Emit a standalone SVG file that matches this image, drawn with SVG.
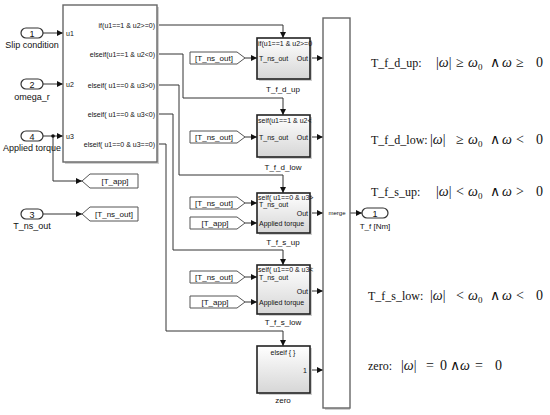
<svg xmlns="http://www.w3.org/2000/svg" width="550" height="415" viewBox="0 0 550 415">
<style>
text{font-family:"Liberation Sans",Arial,sans-serif;fill:#111}
.lbl{font-size:9px;text-anchor:middle}
.num{font-size:9px;text-anchor:middle}
.sm{font-size:7px}
.tag{font-size:8px;text-anchor:middle}
.cap{font-size:8px;text-anchor:middle}
.wire{fill:none;stroke:#333;stroke-width:1;marker-end:url(#ah)}
.shadow{fill:#cfcfcf}
.sub{fill:url(#g);stroke:#222;stroke-width:1.6}
.port{fill:#fff;stroke:#333;stroke-width:1.2}
.tagshape{fill:#fff;stroke:#555;stroke-width:1}
#eqs text{font-family:"Liberation Serif","Times New Roman",serif;font-size:14px;fill:#111}
#eqs text.name{font-size:12px}
.w{font-style:italic}
.sub0{font-size:9px}
</style>
<defs>
<linearGradient id="g" x1="0" y1="0" x2="0" y2="1">
<stop offset="0" stop-color="#ffffff"/>
<stop offset="1" stop-color="#d6d6d6"/>
</linearGradient>
<marker id="ah" markerUnits="userSpaceOnUse" markerWidth="7" markerHeight="6" refX="6" refY="3" orient="auto">
<path d="M0,0 L6,3 L0,6 z" fill="#111"/>
</marker>
</defs>
<rect width="550" height="415" fill="#fff"/>

<g id="connectors">
<path class="wire" d="M43,33 H63"/>
<path class="wire" d="M43,84 H63"/>
<path class="wire" d="M43,136 H63"/>
<path class="wire" d="M53,136 V181 H82"/>
<circle cx="53" cy="136" r="1.8" fill="#111"/>
<path class="wire" d="M43,214 H82"/>
<path class="wire" d="M157,25 H283 V38"/>
<path class="wire" d="M157,54 H183 V98 H283 V115"/>
<path class="wire" d="M157,85 H179 V175 H283 V193"/>
<path class="wire" d="M157,114 H173 V250 H283 V265"/>
<path class="wire" d="M157,144 H166 V331 H283 V346"/>
<path class="wire" d="M245,58 H257"/>
<path class="wire" d="M245,137 H257"/>
<path class="wire" d="M245,203 H257"/>
<path class="wire" d="M245,223 H257"/>
<path class="wire" d="M245,277 H257"/>
<path class="wire" d="M245,302 H257"/>
<path class="wire" d="M310,58 H323"/>
<path class="wire" d="M310,137 H323"/>
<path class="wire" d="M310,213 H323"/>
<path class="wire" d="M310,291 H323"/>
<path class="wire" d="M310,370 H323"/>
<path class="wire" d="M350,213 H362"/>
</g>

<g id="in1">
<rect x="21" y="28" width="22" height="10" rx="5" class="port"/>
<text x="32" y="36.5" class="num">1</text>
<text x="32" y="48" class="lbl">Slip condition</text>
</g>
<g id="in2">
<rect x="21" y="79" width="22" height="10" rx="5" class="port"/>
<text x="32" y="87.5" class="num">2</text>
<text x="32" y="100" class="lbl">omega_r</text>
</g>
<g id="in4">
<rect x="21" y="131" width="22" height="10" rx="5" class="port"/>
<text x="32" y="139.5" class="num">4</text>
<text x="32" y="151" class="lbl">Applied torque</text>
</g>
<g id="in3">
<rect x="21" y="209" width="22" height="10" rx="5" class="port"/>
<text x="32" y="217.5" class="num">3</text>
<text x="32" y="229" class="lbl">T_ns_out</text>
</g>

<g id="ifblock">
<rect x="65" y="7" width="94" height="157" class="shadow"/>
<rect x="63" y="5" width="94" height="157" fill="#fff" stroke="#666" stroke-width="1.4"/>
<text x="66" y="35.5" class="sm">u1</text>
<text x="66" y="86.5" class="sm">u2</text>
<text x="66" y="138.5" class="sm">u3</text>
<g class="sm" text-anchor="end">
<text x="155" y="27.5">if(u1==1 &amp; u2&gt;=0)</text>
<text x="155" y="56.5">elseif(u1==1 &amp; u2&lt;0)</text>
<text x="155" y="87.5">elseif( u1==0 &amp; u3&gt;0)</text>
<text x="155" y="116.5">elseif( u1==0 &amp; u3&lt;0)</text>
<text x="155" y="146.5">elseif( u1==0 &amp; u3==0)</text>
</g>
</g>

<g id="goto_tapp">
<polygon points="82,181 90,174 138,174 138,188 90,188" class="tagshape"/>
<text x="115" y="184" class="tag">[T_app]</text>
</g>
<g id="goto_tns">
<polygon points="82,214 90,207 138,207 138,221 90,221" class="tagshape"/>
<text x="114" y="217" class="tag">[T_ns_out]</text>
</g>

<g id="from1">
<polygon points="190,52 237,52 245,58 237,64 190,64" class="tagshape"/>
<text x="214" y="61" class="tag">[T_ns_out]</text>
</g>
<g id="from2">
<polygon points="190,131 237,131 245,137 237,143 190,143" class="tagshape"/>
<text x="214" y="140" class="tag">[T_ns_out]</text>
</g>
<g id="from3">
<polygon points="190,197 237,197 245,203 237,209 190,209" class="tagshape"/>
<text x="214" y="206" class="tag">[T_ns_out]</text>
</g>
<g id="from4">
<polygon points="190,217 237,217 245,223 237,229 190,229" class="tagshape"/>
<text x="215" y="226" class="tag">[T_app]</text>
</g>
<g id="from5">
<polygon points="190,271 237,271 245,277 237,283 190,283" class="tagshape"/>
<text x="214" y="280" class="tag">[T_ns_out]</text>
</g>
<g id="from6">
<polygon points="190,296 237,296 245,302 237,308 190,308" class="tagshape"/>
<text x="215" y="305" class="tag">[T_app]</text>
</g>

<g id="T_f_d_up">
<rect x="259" y="40" width="53" height="41" class="shadow"/>
<rect x="257" y="38" width="53" height="41" class="sub"/>
<text x="258" y="46" class="sm">if(u1==1 &amp; u2&gt;=0</text>
<text x="259" y="60.5" class="sm">T_ns_out</text>
<text x="308" y="60.5" class="sm" text-anchor="end">Out</text>
<text x="283" y="92" class="cap">T_f_d_up</text>
</g>
<g id="T_f_d_low">
<rect x="259" y="117" width="53" height="42" class="shadow"/>
<rect x="257" y="115" width="53" height="42" class="sub"/>
<text x="258" y="123" class="sm">seif(u1==1 &amp; u2&lt;</text>
<text x="259" y="139.5" class="sm">T_ns_out</text>
<text x="308" y="139.5" class="sm" text-anchor="end">Out</text>
<text x="283" y="170" class="cap">T_f_d_low</text>
</g>
<g id="T_f_s_up">
<rect x="259" y="195" width="53" height="40" class="shadow"/>
<rect x="257" y="193" width="53" height="40" class="sub"/>
<text x="258" y="200" class="sm">seif( u1==0 &amp; u3&gt;</text>
<text x="259" y="206.5" class="sm">T_ns_out</text>
<text x="308" y="215.5" class="sm" text-anchor="end">Out</text>
<text x="259" y="225.5" class="sm">Applied torque</text>
<text x="283" y="245" class="cap">T_f_s_up</text>
</g>
<g id="T_f_s_low">
<rect x="259" y="267" width="53" height="49" class="shadow"/>
<rect x="257" y="265" width="53" height="49" class="sub"/>
<text x="258" y="272" class="sm">seif( u1==0 &amp; u3&lt;</text>
<text x="259" y="279.5" class="sm">T_ns_out</text>
<text x="308" y="293.5" class="sm" text-anchor="end">Out</text>
<text x="259" y="304.5" class="sm">Applied torque</text>
<text x="283" y="325" class="cap">T_f_s_low</text>
</g>
<g id="zero">
<rect x="259" y="348" width="53" height="47" class="shadow"/>
<rect x="257" y="346" width="53" height="47" class="sub"/>
<text x="283" y="355" class="sm" text-anchor="middle">elseif { }</text>
<text x="307" y="372.5" class="sm" text-anchor="end">1</text>
<text x="283" y="403" class="cap">zero</text>
</g>

<g id="merge">
<rect x="325" y="20" width="25" height="390" class="shadow"/>
<rect x="323" y="18" width="27" height="390" fill="#fff" stroke="#666" stroke-width="1.4"/>
<text x="337" y="215" font-size="6" text-anchor="middle">merge</text>
</g>

<g id="out1">
<rect x="362" y="208" width="26" height="10" rx="5" class="port"/>
<text x="375" y="216.5" class="num">1</text>
<text x="375" y="229" class="cap">T_f [Nm]</text>
</g>

<g id="eqs">
<text class="name" x="371" y="67">T_f_d_up:</text>
<text y="67"><tspan x="436">|</tspan><tspan class="w">ω</tspan><tspan>|</tspan><tspan x="456">≥</tspan><tspan x="468" class="w">ω</tspan><tspan class="sub0" dy="3">0</tspan><tspan x="490" dy="-3">∧</tspan><tspan x="502" class="w">ω</tspan><tspan x="516">≥</tspan><tspan x="536">0</tspan></text>
<text class="name" x="371" y="144">T_f_d_low:</text>
<text y="144"><tspan x="430">|</tspan><tspan class="w">ω</tspan><tspan>|</tspan><tspan x="456">≥</tspan><tspan x="468" class="w">ω</tspan><tspan class="sub0" dy="3">0</tspan><tspan x="490" dy="-3">∧</tspan><tspan x="502" class="w">ω</tspan><tspan x="516">&lt;</tspan><tspan x="536">0</tspan></text>
<text class="name" x="371" y="196">T_f_s_up:</text>
<text y="196"><tspan x="436">|</tspan><tspan class="w">ω</tspan><tspan>|</tspan><tspan x="456">&lt;</tspan><tspan x="468" class="w">ω</tspan><tspan class="sub0" dy="3">0</tspan><tspan x="490" dy="-3">∧</tspan><tspan x="502" class="w">ω</tspan><tspan x="516">&gt;</tspan><tspan x="536">0</tspan></text>
<text class="name" x="368" y="300">T_f_s_low:</text>
<text y="300"><tspan x="430">|</tspan><tspan class="w">ω</tspan><tspan>|</tspan><tspan x="456">&lt;</tspan><tspan x="468" class="w">ω</tspan><tspan class="sub0" dy="3">0</tspan><tspan x="490" dy="-3">∧</tspan><tspan x="502" class="w">ω</tspan><tspan x="516">&lt;</tspan><tspan x="536">0</tspan></text>
<text class="name" x="368" y="370">zero:</text>
<text y="370"><tspan x="401">|</tspan><tspan class="w">ω</tspan><tspan>|</tspan><tspan x="426">=</tspan><tspan x="440">0</tspan><tspan x="450">∧</tspan><tspan x="460" class="w">ω</tspan><tspan x="475">=</tspan><tspan x="495">0</tspan></text>
</g>
</svg>
